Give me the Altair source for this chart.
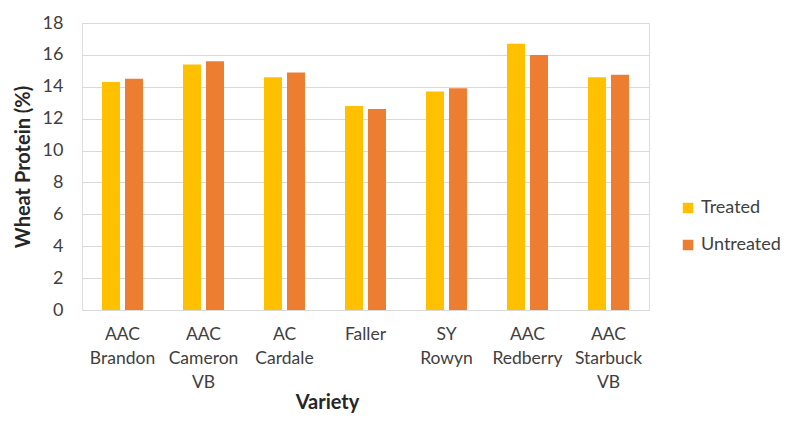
import altair as alt
import pandas as pd

varieties = ["AAC Brandon", "AAC Cameron VB", "AC Cardale", "Faller",
             "SY Rowyn", "AAC Redberry", "AAC Starbuck VB"]
treated = [14.3, 15.4, 14.6, 12.8, 13.7, 16.7, 14.6]
untreated = [14.5, 15.6, 14.9, 12.6, 13.9, 16.0, 14.75]
series = ["Treated", "Untreated"]
colors = ["#FFC000", "#ED7D31"]

rows = []
for v, t, u in zip(varieties, treated, untreated):
    rows.append({"Variety": v, "Group": "Treated", "Protein": t})
    rows.append({"Variety": v, "Group": "Untreated", "Protein": u})
df = pd.DataFrame(rows)

FONT = "Lato"

chart = alt.Chart(df).mark_bar().encode(
    x=alt.X("Variety:N", sort=varieties,
            scale=alt.Scale(paddingInner=0.494, paddingOuter=0.247),
            axis=alt.Axis(title="Variety", labelAngle=0,
                          labelExpr="split(datum.label, ' ')",
                          labelFontSize=17.5, labelColor="#404040", labelFont=FONT,
                          labelPadding=15, labelLineHeight=24, labelBaseline="top",
                          ticks=False, domainColor="#D9D9D9", domainWidth=1,
                          titleFontSize=20, titleFont=FONT, titleFontWeight="bold",
                          titleColor="#262626", titlePadding=2,
                          titleX=245, titleAlign="center")),
    xOffset=alt.XOffset("Group:N", sort=series,
                        scale=alt.Scale(paddingInner=0.217, paddingOuter=0)),
    y=alt.Y("Protein:Q",
            scale=alt.Scale(domain=[0, 18], nice=False),
            axis=alt.Axis(title="Wheat Protein (%)", values=list(range(0, 19, 2)),
                          labelFontSize=18, labelColor="#404040", labelFont=FONT,
                          labelPadding=19, ticks=False, domain=False,
                          gridColor="#D9D9D9", gridWidth=1,
                          titleFontSize=20, titleFont=FONT, titleFontWeight="bold",
                          titleColor="#262626", titlePadding=9)),
    color=alt.Color("Group:N", sort=series,
                    scale=alt.Scale(domain=series, range=colors),
                    legend=alt.Legend(title=None, orient="none", legendX=597, legendY=176,
                                      symbolType="square", symbolSize=110,
                                      symbolStrokeWidth=0, labelFontSize=18,
                                      labelFont=FONT, labelColor="#404040",
                                      rowPadding=19, labelOffset=4)),
).properties(
    width=567, height=287,
    autosize=alt.AutoSizeParams(type="none"),
    padding={"left": 74, "top": 15, "right": 134, "bottom": 105},
).configure_view(stroke=None).configure(background="white")

chart.save("out.html", embed_options={"renderer": "svg", "actions": False})
